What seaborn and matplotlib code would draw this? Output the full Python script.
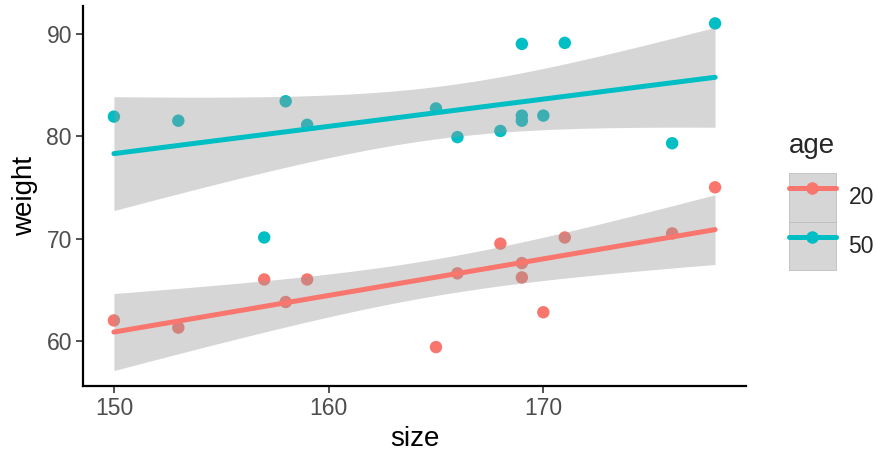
import numpy as np
import pandas as pd
import seaborn as sns
import matplotlib.pyplot as plt
from matplotlib.lines import Line2D
from matplotlib.patches import Patch

# data
size_20 = [150, 153, 157, 158, 159, 165, 166, 168, 169, 169, 170, 171, 176, 178]
weight_20 = [62.0, 61.3, 66.0, 63.8, 66.0, 59.4, 66.6, 69.5, 67.6, 66.2, 62.8, 70.1, 70.5, 75.0]
size_50 = [150, 153, 157, 158, 159, 165, 166, 168, 169, 169, 169, 170, 171, 176, 178]
weight_50 = [81.9, 81.5, 70.1, 83.4, 81.1, 82.7, 79.9, 80.5, 89.0, 82.0, 81.5, 82.0, 89.1, 79.3, 91.0]
ages = ['20', '50']
colors = {'20': '#F8766D', '50': '#00BFC4'}

# two-sided 95% t quantiles for n-2 degrees of freedom (12 and 13)
t975 = {12: 2.1788, 13: 2.1604}

df = pd.DataFrame({
    'size': size_20 + size_50,
    'weight': weight_20 + weight_50,
    'age': ['20'] * len(size_20) + ['50'] * len(size_50),
})

sns.set_style('white')
plt.rcParams['font.family'] = ['Liberation Sans', 'DejaVu Sans']

fig = plt.figure(figsize=(8.77, 4.53), dpi=100)
ax = fig.add_axes([83 / 877, 1 - 386 / 453, (746 - 83) / 877, (386 - 6) / 453])

# points first, then smooths on top (like ggplot layers)
sns.scatterplot(data=df, x='size', y='weight', hue='age', palette=colors,
                s=80, edgecolor='none', legend=False, ax=ax, zorder=1)
for a in ages:
    sub = df[df['age'] == a]
    x = sub['size'].to_numpy(float)
    y = sub['weight'].to_numpy(float)
    n = len(x)
    b1, b0 = np.polyfit(x, y, 1)
    resid = y - (b0 + b1 * x)
    s = np.sqrt((resid ** 2).sum() / (n - 2))
    grid = np.linspace(x.min(), x.max(), 80)
    se = s * np.sqrt(1 / n + (grid - x.mean()) ** 2 / ((x - x.mean()) ** 2).sum())
    fit = b0 + b1 * grid
    ax.fill_between(grid, fit - t975[n - 2] * se, fit + t975[n - 2] * se,
                    facecolor='#999999', alpha=0.4, linewidth=0, zorder=2)
    sns.regplot(data=sub, x='size', y='weight', scatter=False, ci=None, ax=ax,
                truncate=True,
                line_kws={'color': colors[a], 'lw': 3.6, 'zorder': 3})

ax.set_xlim(148.56, 179.44)
ax.set_ylim(55.6, 92.7)
ax.set_xticks([150, 160, 170])
ax.set_yticks([60, 70, 80, 90])

for sp in ['top', 'right']:
    ax.spines[sp].set_visible(False)
for sp in ['left', 'bottom']:
    ax.spines[sp].set_color('black')
    ax.spines[sp].set_linewidth(1.6)
ax.tick_params(axis='both', length=5, width=1.2, color='#333333',
               labelsize=16.5, labelcolor='#4D4D4D', pad=3, left=True, bottom=True)
ax.set_xlabel('size', fontsize=20, color='black', labelpad=4)
ax.set_ylabel('weight', fontsize=20, color='black', labelpad=6)

handles = []
for a in ages:
    bg = Patch(facecolor='#D6D6D6', edgecolor='#BDBDBD', linewidth=0.6)
    ln = Line2D([], [], color=colors[a], lw=3.6, marker='o', markersize=9,
                markeredgecolor='none')
    handles.append((bg, ln))
leg = fig.legend(handles, ages, title='age', loc='center left',
                 bbox_to_anchor=(789 / 877, 0.555), frameon=False, fontsize=16.5,
                 title_fontsize=20, handlelength=2.05, handleheight=2.9,
                 handletextpad=0.55, labelspacing=0.0, borderpad=0,
                 borderaxespad=0)
leg._legend_box.align = 'left'
leg._legend_box.sep = 10

fig.savefig('out.png', dpi=100, facecolor='white')
